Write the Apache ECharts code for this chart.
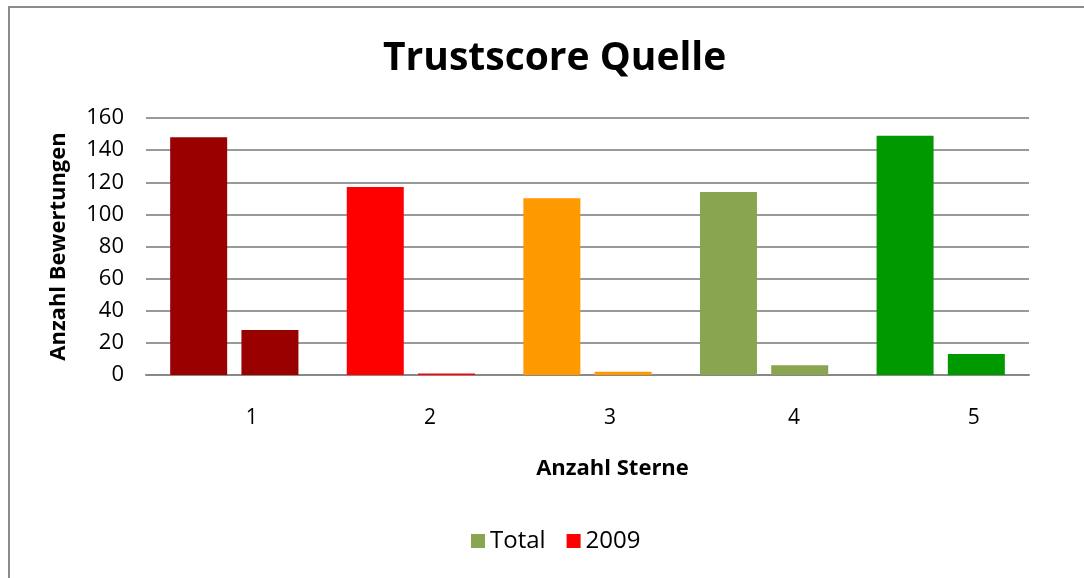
<!DOCTYPE html>
<html lang="de">
<head>
    <meta charset="UTF-8">
    <title>Trustscore Quelle</title>
    <script src="https://cdn.jsdelivr.net/npm/echarts@6/dist/echarts.min.js"></script>
    <style>
        html, body { margin: 0; padding: 0; background: #fff; }
    </style>
</head>
<body>
    <div id="chart" style="width: 1084px; height: 578px;"></div>
    <script>
        // Daten
        const sterne = ['1', '2', '3', '4', '5'];
        const totalWerte = [148, 117, 110, 114, 149];
        const werte2009 = [28, 1, 2, 6, 13];
        const sternFarben = ['#990000', '#ff0000', '#ff9900', '#8aa54f', '#009900'];
        const yTicks = [0, 20, 40, 60, 80, 100, 120, 140, 160];

        const fontFam = '"Open Sans", "Noto Sans", sans-serif';
        const chart = echarts.init(document.getElementById('chart'));

        // jede Säule bekommt die Farbe ihrer Sternezahl
        const färben = arr => arr.map((v, i) => ({ value: v, itemStyle: { color: sternFarben[i] } }));

        // Excel setzt die Kategorie-Beschriftungen leicht nach rechts versetzt
        const labelVersatz = [35, 38, 45, 60, 66];
        const labelRich = {};
        labelVersatz.forEach((p, i) => {
            labelRich['p' + i] = { padding: [0, 0, 0, p], fontFamily: fontFam, fontSize: 21, color: '#000' };
        });

        const option = {
            animation: false,
            backgroundColor: '#fff',
            graphic: [{
                type: 'rect',
                shape: { x: 9, y: 7, width: 1200, height: 700 },
                style: { fill: 'none', stroke: '#8c8c8c', lineWidth: 2 },
                silent: true
            }],
            title: {
                text: 'Trustscore Quelle',
                left: 378,
                top: 34,
                textStyle: { fontFamily: fontFam, fontSize: 39, fontWeight: 'bold', color: '#000' }
            },
            legend: {
                bottom: 20,
                left: 466,
                itemWidth: 14,
                itemHeight: 14,
                itemGap: 21,
                icon: 'rect',
                textStyle: { fontFamily: fontFam, fontSize: 24, color: '#000' },
                data: ['Total', '2009']
            },
            grid: { left: 146, right: 55, top: 118, bottom: 203, containLabel: false },
            xAxis: {
                type: 'category',
                data: sterne,
                name: 'Anzahl Sterne',
                nameLocation: 'middle',
                nameGap: 83,
                nameTextStyle: { fontFamily: fontFam, fontSize: 22, fontWeight: 'bold', color: '#000', padding: [0, 0, 0, 50] },
                axisLine: { lineStyle: { color: '#888', width: 2 } },
                axisTick: { show: false },
                axisLabel: {
                    margin: 33,
                    formatter: (v, i) => '{p' + i + '|' + v + '}',
                    rich: labelRich
                }
            },
            yAxis: {
                type: 'value',
                min: yTicks[0],
                max: yTicks[yTicks.length - 1],
                interval: 20,
                name: 'Anzahl Bewertungen',
                nameLocation: 'middle',
                nameGap: 76,
                nameTextStyle: { fontFamily: fontFam, fontSize: 22, fontWeight: 'bold', color: '#000' },
                axisLine: { show: false },
                axisTick: { show: false },
                axisLabel: { fontFamily: fontFam, fontSize: 22, color: '#000', margin: 22 },
                splitLine: { lineStyle: { color: '#999', width: 2 } }
            },
            series: [
                {
                    name: 'Total',
                    type: 'bar',
                    barWidth: 57,
                    barGap: '25%',
                    itemStyle: { color: '#8aa54f' },
                    data: färben(totalWerte)
                },
                {
                    name: '2009',
                    type: 'bar',
                    barWidth: 57,
                    itemStyle: { color: '#ff0000' },
                    data: färben(werte2009)
                }
            ]
        };
        chart.setOption(option);
    </script>
</body>
</html>
